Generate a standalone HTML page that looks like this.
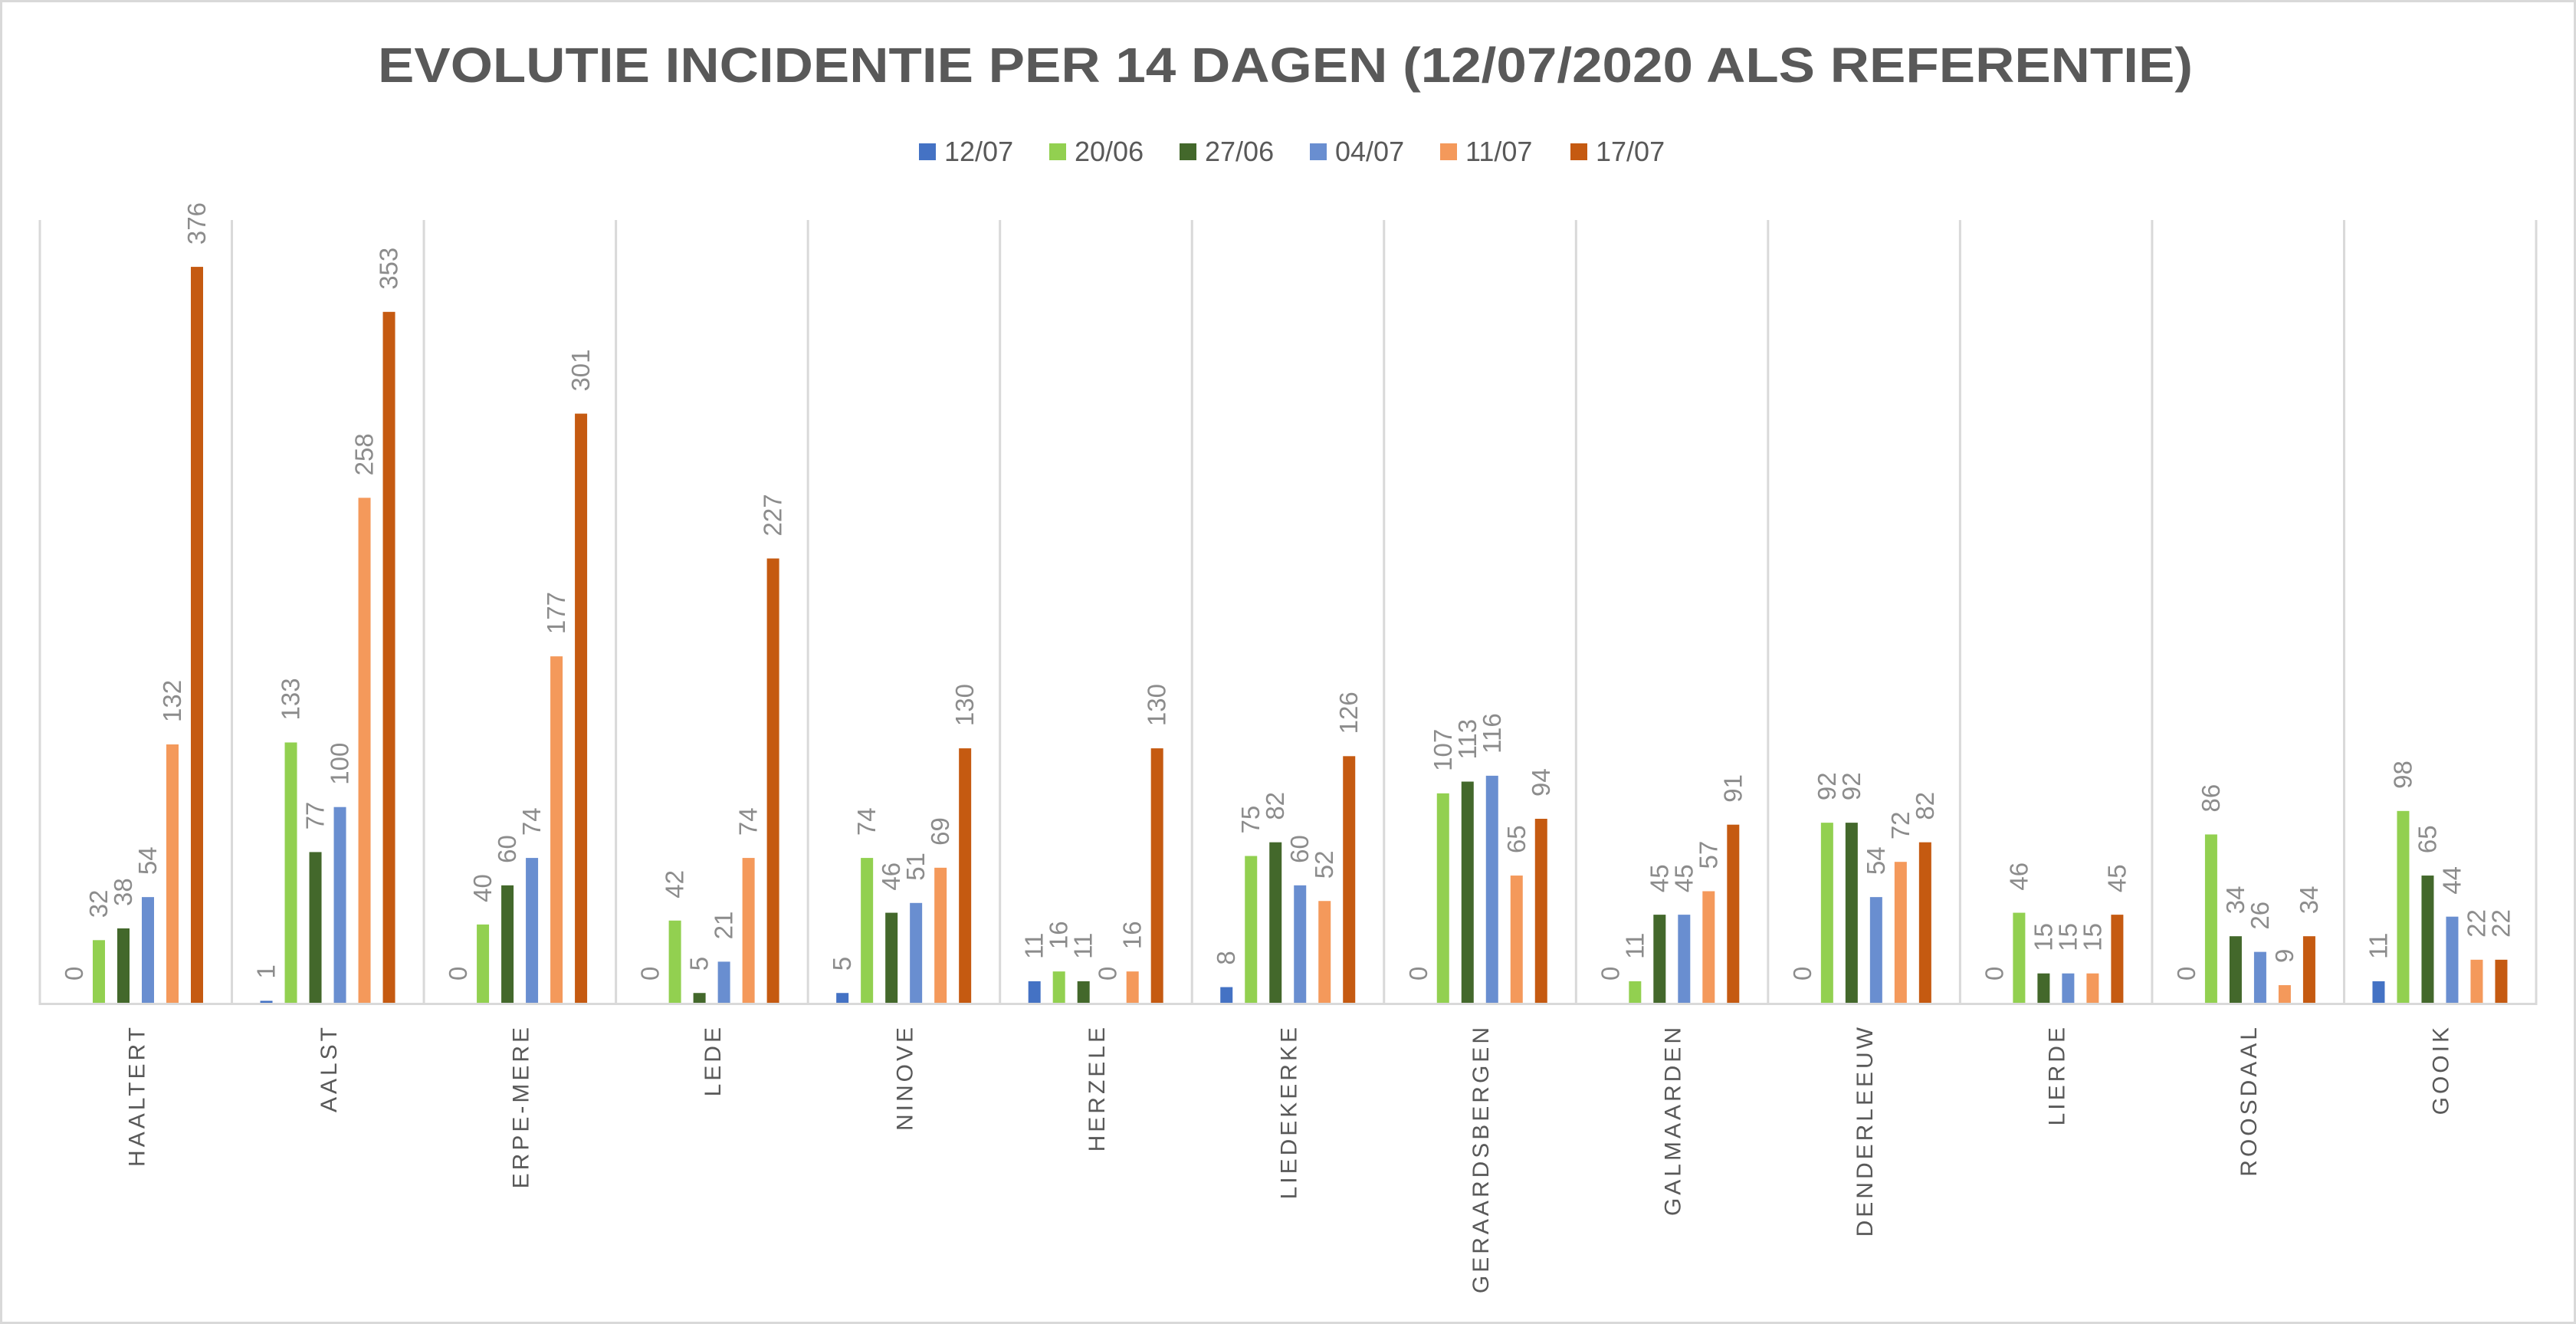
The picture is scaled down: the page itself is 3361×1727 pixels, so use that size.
<!DOCTYPE html>
<html><head><meta charset="utf-8"><style>
html,body{margin:0;padding:0;background:#fff;}
svg{display:block;}
</style></head><body>
<svg id="chart" width="3361" height="1727" xmlns="http://www.w3.org/2000/svg" font-family="'Liberation Sans', sans-serif">
<rect x="1.5" y="1.5" width="3358" height="1724" fill="#fff" stroke="#d9d9d9" stroke-width="3"/>
<text x="1677" y="107" text-anchor="middle" font-size="64" font-weight="bold" fill="#595959" textLength="2368" lengthAdjust="spacingAndGlyphs">EVOLUTIE INCIDENTIE PER 14 DAGEN (12/07/2020 ALS REFERENTIE)</text>
<g id="legend"></g>
<g id="grid"></g>
<g id="bars"></g>
<g id="labels"></g>
<g id="cats"></g>
</svg>
<script>
const categories = ["HAALTERT","AALST","ERPE-MERE","LEDE","NINOVE","HERZELE","LIEDEKERKE","GERAARDSBERGEN","GALMAARDEN","DENDERLEEUW","LIERDE","ROOSDAAL","GOOIK"];
const seriesNames = ["12/07","20/06","27/06","04/07","11/07","17/07"];
const s1207 = [0,1,0,0,5,11,8,0,0,0,0,0,11];
const s2006 = [32,133,40,42,74,16,75,107,11,92,46,86,98];
const s2706 = [38,77,60,5,46,11,82,113,45,92,15,34,65];
const s0407 = [54,100,74,21,51,0,60,116,45,54,15,26,44];
const s1107 = [132,258,177,74,69,16,52,65,57,72,15,9,22];
const s1707 = [376,353,301,227,130,130,126,94,91,82,45,34,22];
const series = [s1207,s2006,s2706,s0407,s1107,s1707];
const colors = ["#4472c4","#92d050","#43682b","#698ed0","#f4995b","#c55a11"];

const NS = "http://www.w3.org/2000/svg";
const plotL = 52, plotR = 3309, plotT = 287, base = 1308;
const groupW = (plotR - plotL) / categories.length;
const pxPerUnit = 2.553;
const barW = 16, pitch = 32, firstOff = 37;
function xBar(ci, si){ return plotL + ci*groupW + firstOff + si*pitch; }
function yVal(v){ return base - v*pxPerUnit; }
function mk(tag, attrs, parent){ const e=document.createElementNS(NS,tag); for(const k in attrs) e.setAttribute(k, attrs[k]); parent.appendChild(e); return e; }

const grid = document.getElementById('grid');
for(let i=0;i<=categories.length;i++){
  const x = plotL + i*groupW;
  const l = mk('line',{x1:x,x2:x,y1:plotT,y2:base,stroke:'#d9d9d9','stroke-width':3},grid);
  
  
}
const ax = mk('line',{x1:plotL-1.5,x2:plotR+1.5,y1:base+1.5,y2:base+1.5,stroke:'#d9d9d9','stroke-width':3},grid);



const bars = document.getElementById('bars'), labels = document.getElementById('labels'), cats = document.getElementById('cats');
categories.forEach((c,ci)=>{
  series.forEach((s,si)=>{
    const v = s[ci], x = xBar(ci,si), y = yVal(v);
    const r = mk('rect',{x:x,y:y,width:barW,height:Math.max(base-y,0),fill:colors[si]},bars);
    
    
    const lx = x + barW/2 + 11, ly = y - 29;
    const t = mk('text',{x:lx,y:ly,transform:'rotate(-90 '+lx+' '+ly+')','font-size':33,fill:'#8c8c8c'},labels);
    t.textContent = v;
    
    
  });
  const cx = plotL + ci*groupW + groupW/2 + 11, cy = 1336;
  const t = mk('text',{x:cx,y:cy,transform:'rotate(-90 '+cx+' '+cy+')','text-anchor':'end','font-size':30,fill:'#595959','letter-spacing':'4'},cats);
  t.textContent = c;
  
  
});

const legend = document.getElementById('legend');
seriesNames.forEach((n,i)=>{
  const x = 1199 + i*170;
  const g = mk('g',{},legend);
  
  
  mk('rect',{x:x,y:187,width:22,height:22,fill:colors[i]},g);
  const t = mk('text',{x:x+33,y:210,'font-size':36,fill:'#595959'},g);
  t.textContent = n;
});
</script>
</body></html>
